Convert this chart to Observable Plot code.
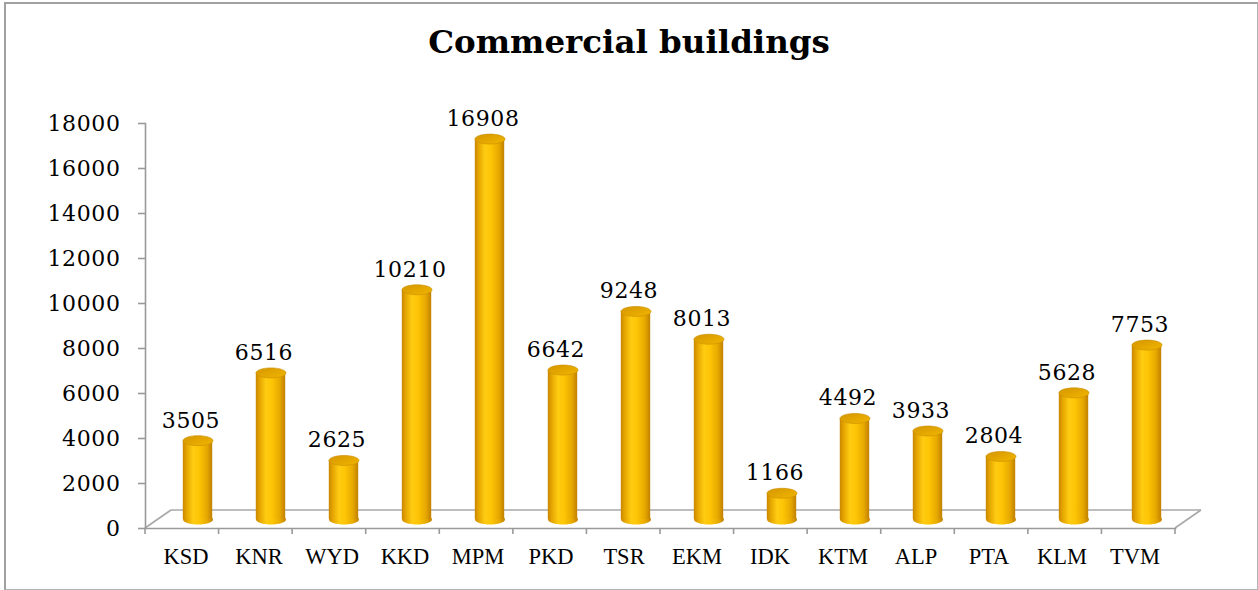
<!DOCTYPE html>
<html><head><meta charset="utf-8">
<script src="https://cdn.jsdelivr.net/npm/d3@7"></script>
<script src="https://cdn.jsdelivr.net/npm/@observablehq/plot@0.6"></script>
<style>
html,body{margin:0;padding:0;background:#fff;}
#wrap{position:relative;width:1258px;height:590px;overflow:hidden;background:#fff;}
#frame{position:absolute;left:4px;top:2px;width:1254px;height:588px;box-sizing:border-box;border-left:2px solid #a0a0a0;border-top:2px solid #a0a0a0;border-right:1px solid #b4b4b4;border-bottom:1px solid #b4b4b4;pointer-events:none;z-index:2;}
#title{position:absolute;left:0;top:27px;width:1258px;text-align:center;font:bold 32.5px/30px "DejaVu Serif",serif;color:#000;}
#chart{position:absolute;left:0;top:80px;}
.num text{letter-spacing:0.6px;}
</style></head><body>
<div id="wrap"><div id="title">Commercial buildings</div><div id="chart"></div><div id="frame"></div></div>
<script>
const categories = ["KSD","KNR","WYD","KKD","MPM","PKD","TSR","EKM","IDK","KTM","ALP","PTA","KLM","TVM"];
const values = [3505, 6516, 2625, 10210, 16908, 6642, 9248, 8013, 1166, 4492, 3933, 2804, 5628, 7753];
const yTicks = [0, 2000, 4000, 6000, 8000, 10000, 12000, 14000, 16000, 18000];

const data = categories.map((c, i) => ({cat: c, value: values[i]}));

const DX = 12, DY = -9;       // cylinder offset (half depth)
const FDX = 26, FDY = -18;    // floor depth
const RX = 15, RY = 5;        // ellipse radii
const AXIS = "#9a9a9a";

const K = 0.5523;
const ellipse = {
  draw(ctx) {
    ctx.moveTo(RX, 0);
    ctx.bezierCurveTo(RX, RY * K, RX * K, RY, 0, RY);
    ctx.bezierCurveTo(-RX * K, RY, -RX, RY * K, -RX, 0);
    ctx.bezierCurveTo(-RX, -RY * K, -RX * K, -RY, 0, -RY);
    ctx.bezierCurveTo(RX * K, -RY, RX, -RY * K, RX, 0);
    ctx.closePath();
  }
};

const NS = "http://www.w3.org/2000/svg";
function defs() {
  const g = document.createElementNS(NS, "g");
  g.innerHTML = `<defs>
    <linearGradient id="cyl" x1="0" x2="1" y1="0" y2="0">
      <stop offset="0" stop-color="#c88700"/>
      <stop offset="0.12" stop-color="#e3a300"/>
      <stop offset="0.35" stop-color="#ffcc12"/>
      <stop offset="0.55" stop-color="#fdc505"/>
      <stop offset="0.82" stop-color="#e6a800"/>
      <stop offset="1" stop-color="#c08000"/>
    </linearGradient>
    <linearGradient id="cap" x1="0" x2="1" y1="0" y2="1">
      <stop offset="0" stop-color="#d49500"/>
      <stop offset="0.5" stop-color="#e3a600"/>
      <stop offset="1" stop-color="#f0b600"/>
    </linearGradient>
  </defs>`;
  return g;
}

function floor(index, scales, vals, dims) {
  const {width, height, marginLeft, marginRight, marginBottom} = dims;
  const x0 = marginLeft, x1 = width - marginRight, y0 = height - marginBottom;
  const step = (x1 - x0) / categories.length;
  const g = document.createElementNS(NS, "g");
  const line = (ax, ay, bx, by, stroke, sw) => {
    const l = document.createElementNS(NS, "line");
    l.setAttribute("x1", ax); l.setAttribute("y1", ay);
    l.setAttribute("x2", bx); l.setAttribute("y2", by);
    l.setAttribute("stroke", stroke); l.setAttribute("stroke-width", sw);
    g.appendChild(l);
  };
  line(x0, y0, x0 + FDX, y0 + FDY, "#a8a8a8", 1.6);
  line(x0 + FDX, y0 + FDY, x1 + FDX, y0 + FDY, "#a8a8a8", 1.6);
  line(x1, y0, x1 + FDX, y0 + FDY, "#a8a8a8", 1.6);
  for (let i = 0; i <= categories.length; i++) {
    const x = x0 + i * step;
    line(x, y0, x, y0 + 6, AXIS, 1.6);
  }
  return g;
}

const plot = Plot.plot({
  width: 1258,
  height: 510,
  marginLeft: 145,
  marginRight: 83,
  marginTop: 43,
  marginBottom: 62,
  style: {background: "transparent", overflow: "visible"},
  x: {domain: categories, padding: 0, label: null},
  y: {domain: [0, 18000], label: null},
  marks: [
    defs,
    floor,
    Plot.axisY({ticks: yTicks, tickSize: 7, tickPadding: 18, stroke: AXIS, strokeWidth: 1.6,
      fontSize: 22, fontFamily: "DejaVu Serif", fill: "#000", tickFormat: d => String(d), label: null, className: "num"}),
    Plot.axisX({tickSize: 0, tickPadding: 20, fontSize: 22.5, fontFamily: "Liberation Serif", fill: "#000", label: null}),
    Plot.frame({anchor: "left", stroke: AXIS, strokeWidth: 1.6}),
    Plot.frame({anchor: "bottom", stroke: AXIS, strokeWidth: 1.6}),
    Plot.dot(data, {x: "cat", y: () => 0, symbol: ellipse, r: 5, fill: "url(#cyl)", stroke: null, dx: DX, dy: DY}),
    Plot.barY(data, {x: "cat", y: "value", fill: "url(#cyl)", insetLeft: 21.8, insetRight: 21.8, dx: DX, dy: DY}),
    Plot.dot(data, {x: "cat", y: "value", symbol: ellipse, r: 5, fill: "url(#cap)", stroke: "#c98e00", strokeWidth: 0.6, dx: DX, dy: DY}),
    Plot.text(data, {x: "cat", y: "value", text: d => String(d.value), dx: 5, dy: -22, lineAnchor: "bottom",
      fontSize: 22, fontFamily: "DejaVu Serif", fill: "#000", className: "num"})
  ]
});
document.getElementById("chart").appendChild(plot);
</script>
</body></html>
